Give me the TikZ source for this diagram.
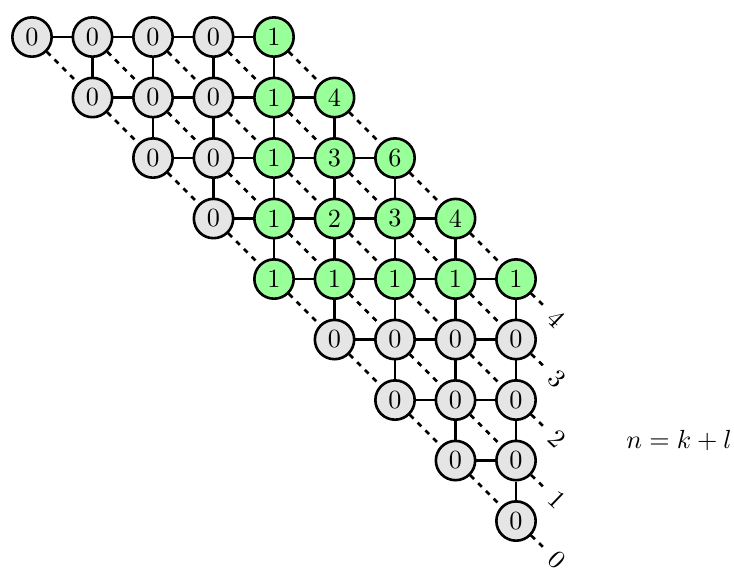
\documentclass[tikz,border=0pt]{standalone}
\begin{document}
\begin{tikzpicture}[x=23.09pt,y=23.09pt,
  cell/.style={circle,draw,line width=1pt,minimum size=15pt,inner sep=0pt},
  link/.style={line width=1pt},
  diag/.style={line width=1pt,dash pattern=on 2pt off 2.2pt},
  lab/.style={pos=1,sloped,anchor=west,inner sep=2.6pt}]
\useasboundingbox (-0.529,0.612) rectangle (11.603,-8.810);
% nodes
\foreach \r/\vals in {0/{0,0,0,0,1},1/{0,0,0,1,4},2/{0,0,1,3,6},3/{0,1,2,3,4},4/{1,1,1,1,1},5/{0,0,0,0},6/{0,0,0},7/{0,0},8/{0}} {
  \foreach \v [count=\k from 0] in \vals {
    \pgfmathtruncatemacro\c{\r+\k}
    \ifnum\v=0 \def\fc{gray!20}\else\def\fc{green!40}\fi
    \node[cell,fill=\fc] (n-\r-\c) at (\c,-\r) {\v};
  }
}
% connectors
\foreach \r in {0,...,8} {
  \pgfmathtruncatemacro\cmax{min(\r+4,8)}
  \pgfmathtruncatemacro\rn{\r+1}
  \pgfmathtruncatemacro\lab{8-\r}
  \foreach \c in {\r,...,\cmax} {
    \pgfmathtruncatemacro\cn{\c+1}
    \ifnum\c<\cmax \draw[link] (n-\r-\c) -- (n-\r-\cn); \fi
    \ifnum\c>\r \ifnum\r<8 \draw[link] (n-\r-\c) -- (n-\rn-\c); \fi\fi
    \ifnum\c<8
      \draw[diag] (n-\r-\c) -- (n-\rn-\cn);
    \else
      \coordinate (e-\r) at (8.5,-\r-0.48);
      \draw[diag] (n-\r-8) -- (e-\r) node[lab] {\lab};
    \fi
  }
}
\node (eq) at (10.694,-6.669) {$n = k + l$};
\end{tikzpicture}
\end{document}
